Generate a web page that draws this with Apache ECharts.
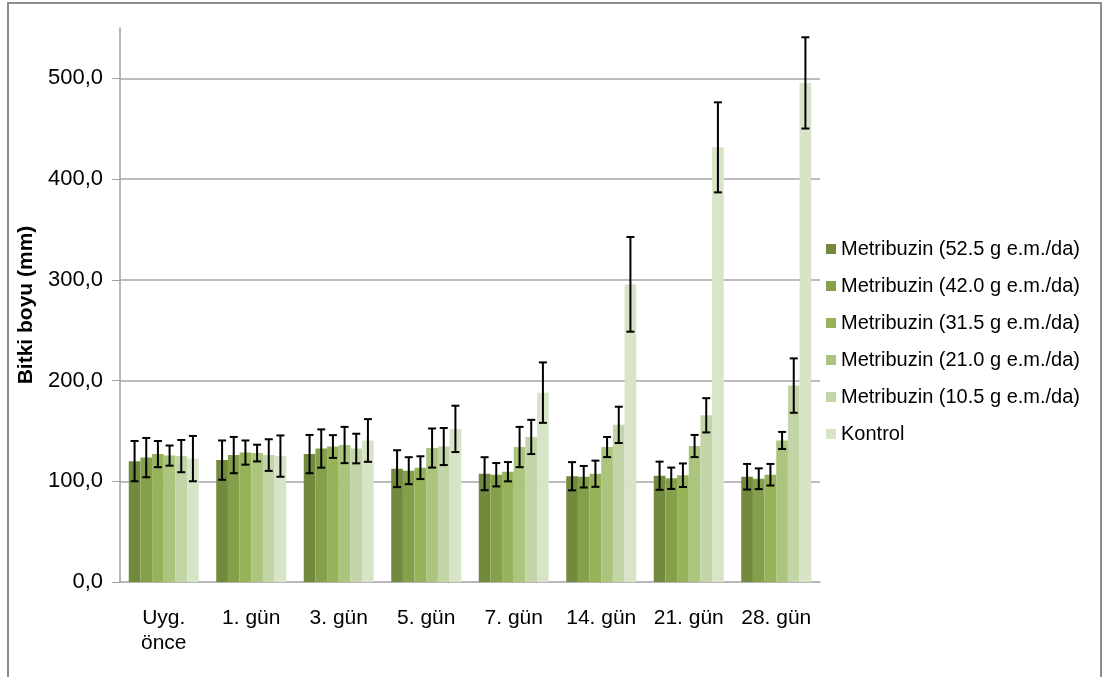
<!DOCTYPE html>
<html>
<head>
<meta charset="utf-8">
<script src="https://cdn.jsdelivr.net/npm/echarts@6/dist/echarts.min.js"></script>
<style>
html,body{margin:0;padding:0;background:#fff;}
#chart{width:1103px;height:677px;}
</style>
</head>
<body>
<div id="chart"></div>
<script>
var categories = ['Uyg.\nönce', '1. gün', '3. gün', '5. gün', '7. gün', '14. gün', '21. gün', '28. gün'];
var seriesNames = ['Metribuzin (52.5 g e.m./da)', 'Metribuzin (42.0 g e.m./da)', 'Metribuzin (31.5 g e.m./da)', 'Metribuzin (21.0 g e.m./da)', 'Metribuzin (10.5 g e.m./da)', 'Kontrol'];
var m525 = [120, 121, 127, 112.5, 107.5, 105, 105.5, 104.5];
var e525 = [20, 19.5, 19, 18.3, 16.4, 14, 14, 12.7];
var m420 = [123.5, 126, 132.5, 110.5, 106.5, 104.5, 103, 102.5];
var e420 = [19.5, 18, 19, 13.4, 11.6, 10.7, 10.6, 10.3];
var m315 = [127, 128.5, 134.5, 113.5, 109.5, 107.5, 106, 106.5];
var e315 = [13, 12, 11.3, 11.3, 9.6, 13, 11.7, 10.7];
var m210 = [125.5, 128, 136, 133, 134, 134, 135, 140.5];
var e210 = [10, 8.3, 18, 19.4, 20, 10, 11, 8.5];
var m105 = [125, 126, 132.5, 134.5, 144, 156, 165.5, 195];
var e105 = [16, 15.7, 14.7, 18.4, 17, 18, 17, 27];
var mKontrol = [122.5, 125, 140.5, 152, 188, 295.5, 431.5, 495.5];
var eKontrol = [22.5, 20.5, 21.2, 23, 30, 47, 44.7, 45.3];
var yTicks = [0, 100, 200, 300, 400, 500];

var means = [m525, m420, m315, m210, m105, mKontrol];
var errs = [e525, e420, e315, e210, e105, eKontrol];
var colors = ['#738a3e', '#85a04a', '#97b35a', '#abc47e', '#c3d4a6', '#d8e4c7'];
var catGap = 0.2;
var nSeries = means.length;

var font = '"Liberation Sans", Arial, sans-serif';
var series = [];
for (var s = 0; s < nSeries; s++) {
  series.push({
    name: seriesNames[s],
    type: 'bar',
    data: means[s],
    barGap: '0%',
    barCategoryGap: (catGap * 100) + '%',
    itemStyle: { color: colors[s] },
    emphasis: { disabled: true }
  });
}
var errData = [];
for (var s2 = 0; s2 < nSeries; s2++) {
  for (var c = 0; c < categories.length; c++) {
    errData.push([c, means[s2][c] - errs[s2][c], means[s2][c] + errs[s2][c], s2]);
  }
}
series.push({
  type: 'custom',
  name: 'err',
  z: 10,
  silent: true,
  encode: { x: 0, y: [1, 2] },
  data: errData,
  renderItem: function (params, api) {
    var cat = api.value(0);
    var lo = api.coord([cat, api.value(1)]);
    var hi = api.coord([cat, api.value(2)]);
    var band = api.size([1, 0])[0];
    var bw = band * (1 - catGap) / nSeries;
    var idx = api.value(3);
    var x = lo[0] + (idx - (nSeries - 1) / 2) * bw;
    var cap = 4;
    var st = { stroke: '#000', lineWidth: 2 };
    return {
      type: 'group',
      children: [
        { type: 'line', shape: { x1: x, y1: lo[1], x2: x, y2: hi[1] }, style: st },
        { type: 'line', shape: { x1: x - cap, y1: lo[1], x2: x + cap, y2: lo[1] }, style: st },
        { type: 'line', shape: { x1: x - cap, y1: hi[1], x2: x + cap, y2: hi[1] }, style: st }
      ]
    };
  }
});

var chart = echarts.init(document.getElementById('chart'), null, { renderer: 'canvas' });
chart.setOption({
  animation: false,
  backgroundColor: '#ffffff',
  textStyle: { fontFamily: font },
  graphic: [{
    type: 'rect',
    shape: { x: 8, y: 3, width: 1093, height: 720 },
    style: { fill: 'none', stroke: '#8c8c8c', lineWidth: 2 },
    silent: true
  }],
  grid: { left: 120, right: 283, top: 28, bottom: 95, containLabel: false },
  legend: {
    orient: 'vertical',
    left: 826,
    top: 237,
    padding: 0,
    itemWidth: 10,
    itemHeight: 10,
    itemGap: 13,
    icon: 'rect',
    data: seriesNames,
    textStyle: { fontSize: 20, color: '#000', fontFamily: font, lineHeight: 24 }
  },
  xAxis: {
    type: 'category',
    data: categories,
    axisLine: { lineStyle: { color: '#a0a0a0', width: 1.5 } },
    axisTick: { show: false },
    axisLabel: { fontSize: 21, color: '#000', margin: 24, lineHeight: 25, fontFamily: font, interval: 0 }
  },
  yAxis: {
    type: 'value',
    min: 0,
    max: 550,
    interval: 100,
    name: 'Bitki boyu (mm)',
    nameLocation: 'middle',
    nameGap: 79,
    nameRotate: 90,
    nameTextStyle: { fontSize: 21, fontWeight: 'bold', color: '#000', fontFamily: font },
    axisLine: { show: true, lineStyle: { color: '#a0a0a0', width: 1.5 } },
    axisTick: { show: true, inside: false, length: 8, lineStyle: { color: '#a0a0a0' } },
    axisLabel: {
      fontSize: 22, color: '#000', margin: 17, fontFamily: font, showMaxLabel: false,
      formatter: function (v) { return yTicks.indexOf(v) >= 0 ? v.toFixed(1).replace('.', ',') : ''; }
    },
    splitLine: { show: true, showMinLine: false, showMaxLine: false, lineStyle: { color: '#a6a6a6', width: 1.5 } }
  },
  series: series
});
</script>
</body>
</html>
